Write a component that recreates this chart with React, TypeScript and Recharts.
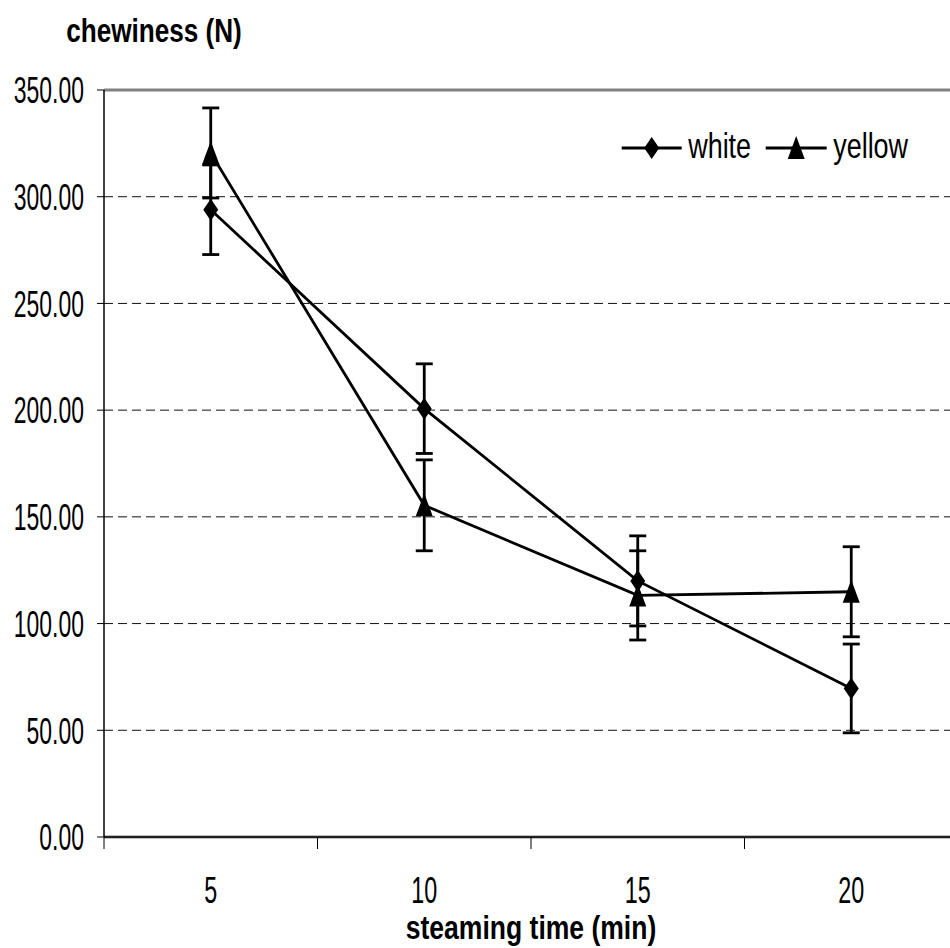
import React from 'react';
import { LineChart, Line, XAxis, YAxis, CartesianGrid, ErrorBar, ReferenceLine, Legend } from 'recharts';

const TIMES = [5, 10, 15, 20];
const WHITE = [293.9, 200.7, 120.0, 69.6];
const WHITE_ERR = [21.0, 21.0, 21.1, 20.8];
const YELLOW = [320.5, 155.4, 113.2, 114.9];
const YELLOW_ERR = [21.1, 21.3, 20.9, 21.1];
const Y_TICKS = [0, 50, 100, 150, 200, 250, 300, 350];
const X_EDGE_TICKS = [2.5, 7.5, 12.5, 17.5, 22.5];
const SERIES_NAMES = ['white', 'yellow'];
const Y_TITLE = 'chewiness (N)';
const X_TITLE = 'steaming time (min)';

const data = TIMES.map((t, i) => ({
  time: t,
  white: WHITE[i],
  whiteErr: WHITE_ERR[i],
  yellow: YELLOW[i],
  yellowErr: YELLOW_ERR[i],
}));

const FONT = '"Liberation Sans", Arial, sans-serif';

const Diamond = (props: any) => {
  const { cx, cy } = props;
  if (cx == null || cy == null) return null;
  return <polygon points={`${cx},${cy - 11} ${cx + 7.5},${cy} ${cx},${cy + 11} ${cx - 7.5},${cy}`} fill="#000" />;
};

const Triangle = (props: any) => {
  const { cx, cy } = props;
  if (cx == null || cy == null) return null;
  return <polygon points={`${cx},${cy - 12} ${cx + 8.5},${cy + 11} ${cx - 8.5},${cy + 11}`} fill="#000" />;
};

const XTick = (props: any) => {
  const { x, y, payload } = props;
  const v = payload.value;
  if (X_EDGE_TICKS.includes(v)) {
    return <line x1={x} x2={x} y1={y - 12} y2={y} stroke="#000" strokeWidth={1} />;
  }
  return (
    <g transform={`translate(${x},${y + 54})`}>
      <text textAnchor="middle" transform="scale(0.63,1)" fontSize={37} fontFamily={FONT} fill="#000">{v}</text>
    </g>
  );
};

const YTick = (props: any) => {
  const { x, y, payload } = props;
  return (
    <g transform={`translate(${x},${y})`}>
      <text textAnchor="end" dy="0.36em" transform="scale(0.62,1)" fontSize={37} fontFamily={FONT} fill="#000">
        {Number(payload.value).toFixed(2)}
      </text>
    </g>
  );
};

const YTitle = (props: any) => {
  const vb = props.viewBox || { x: 0, y: 90 };
  return (
    <g transform={`translate(${vb.x + 154},${vb.y - 48})`}>
      <text textAnchor="middle" transform="scale(0.78,1)" fontSize={33.5} fontWeight="bold" fontFamily={FONT} fill="#000">{Y_TITLE}</text>
    </g>
  );
};

const XTitle = (props: any) => {
  const vb = props.viewBox || { x: 104, y: 837, width: 854 };
  return (
    <g transform={`translate(${vb.x + 427},${vb.y + 102})`}>
      <text textAnchor="middle" transform="scale(0.78,1)" fontSize={34} fontWeight="bold" fontFamily={FONT} fill="#000">{X_TITLE}</text>
    </g>
  );
};

const LegendContent = (props: any) => {
  const payload = props.payload || [];
  const offsets = [0, 144];
  return (
    <svg width={320} height={70}>
      {payload.map((entry: any, i: number) => {
        const ox = offsets[i] ?? i * 144;
        const lineStart = ox + 21.7;
        const lineEnd = ox + 81.7 + (i === 1 ? 1 : 0);
        const mid = (lineStart + lineEnd) / 2;
        const cy = 48;
        return (
          <g key={i}>
            <line x1={lineStart} x2={lineEnd} y1={cy} y2={cy} stroke="#000" strokeWidth={3} />
            {i === 0 ? <Diamond cx={mid} cy={cy} /> : <Triangle cx={mid} cy={cy} />}
            <g transform={`translate(${lineEnd + 6.5},${cy + 10})`}>
              <text transform="scale(0.77,1)" fontSize={35} fontFamily={FONT} fill="#000">{entry.value}</text>
            </g>
          </g>
        );
      })}
    </svg>
  );
};

export default function App() {
  return (
    <div style={{ position: 'absolute', left: 0, top: 0, width: 950, height: 948, overflow: 'hidden', background: '#fff' }}>
      <LineChart width={980} height={948} data={data} margin={{ top: 90, right: 22, bottom: 0, left: 0 }}>
        <CartesianGrid vertical={false} stroke="#111" strokeDasharray="9 5" strokeWidth={1} />
        <XAxis
          type="number"
          dataKey="time"
          domain={[2.5, 22.5]}
          ticks={[2.5, 5, 7.5, 10, 12.5, 15, 17.5, 20, 22.5]}
          interval={0}
          tickLine={false}
          tickSize={12}
          tickMargin={0}
          tick={<XTick />}
          axisLine={{ stroke: '#000', strokeWidth: 1.5 }}
          height={111}
          label={<XTitle />}
        />
        <YAxis
          type="number"
          domain={[0, 350]}
          ticks={Y_TICKS}
          interval={0}
          width={104}
          tickSize={7}
          tickMargin={13}
          tickLine={{ stroke: '#000', strokeWidth: 1 }}
          tick={<YTick />}
          axisLine={{ stroke: '#000', strokeWidth: 1.5 }}
          label={<YTitle />}
        />
        <ReferenceLine y={350} stroke="#808080" strokeWidth={3} />
        <ReferenceLine y={0} stroke="#808080" strokeWidth={3} />
        <Legend
          layout="horizontal"
          verticalAlign="middle"
          align="center"
          wrapperStyle={{ left: 600, top: 100, width: 320, height: 70 }}
          content={<LegendContent />}
        />
        <Line
          type="linear"
          dataKey="white"
          name={SERIES_NAMES[0]}
          stroke="#000"
          strokeWidth={2.8}
          dot={<Diamond />}
          activeDot={false}
          isAnimationActive={false}
        >
          <ErrorBar dataKey="whiteErr" direction="y" width={8.5} stroke="#000" strokeWidth={2.8} isAnimationActive={false} />
        </Line>
        <Line
          type="linear"
          dataKey="yellow"
          name={SERIES_NAMES[1]}
          stroke="#000"
          strokeWidth={2.8}
          dot={<Triangle />}
          activeDot={false}
          isAnimationActive={false}
        >
          <ErrorBar dataKey="yellowErr" direction="y" width={8.5} stroke="#000" strokeWidth={2.8} isAnimationActive={false} />
        </Line>
      </LineChart>
    </div>
  );
}
